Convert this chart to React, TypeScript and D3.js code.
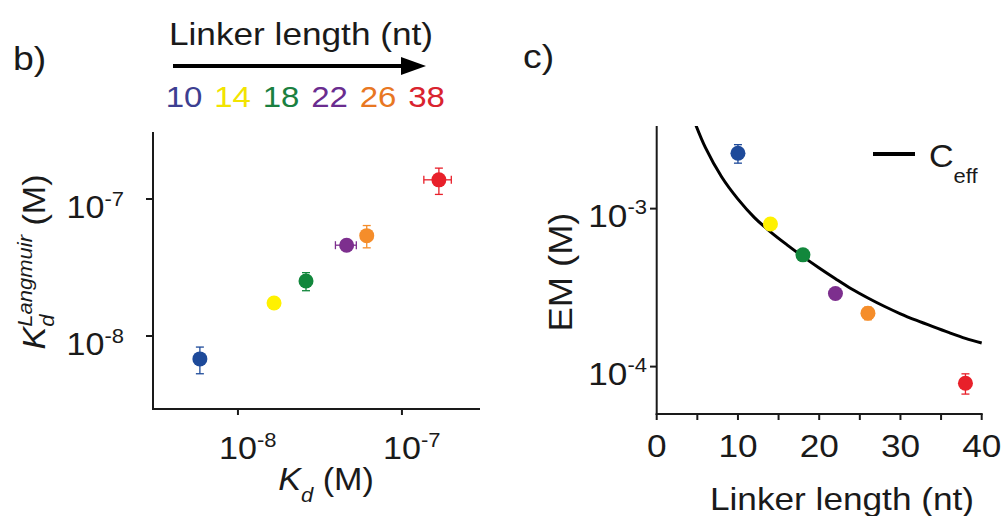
import React from "react";
import * as d3 from "d3";

// ---------- data ----------
const linkers = [10, 14, 18, 22, 26, 38];
const pointColors = ["#1e4a9a", "#fff100", "#12873c", "#7d2f8e", "#f58d2a", "#e8202a"];
const labelColors = ["#3d3f91", "#f2e400", "#1a8040", "#6a2c8f", "#e87722", "#d9232e"];

const kd = [5.86e-9, 1.66e-8, 2.6e-8, 4.6e-8, 6.1e-8, 1.68e-7];
const kdErr = [0.3e-9, 0.1e-8, 0.15e-8, 0.67e-8, 0.4e-8, 0.32e-7];
const kdLangmuir = [6.8e-9, 1.74e-8, 2.52e-8, 4.6e-8, 5.4e-8, 1.38e-7];
const kdLangmuirErr = [1.5e-9, 0.1e-8, 0.38e-8, 0.2e-8, 1.0e-8, 0.3e-7];

const em = [2.24e-3, 8.0e-4, 5.1e-4, 2.9e-4, 2.18e-4, 7.85e-5];
const emErr = [0.3e-3, 0.3e-4, 0.2e-4, 0.15e-4, 0.2e-4, 1.15e-5];

const ceffL = [4.6, 6, 8, 10, 12, 14, 16, 18, 20, 22, 24, 26, 28, 30, 32, 34, 36, 38, 40];
const ceffVal = [3.61e-3, 2.43e-3, 1.585e-3, 1.148e-3, 8.81e-4, 7.13e-4, 5.92e-4, 4.97e-4, 4.21e-4, 3.6e-4,
  3.1e-4, 2.72e-4, 2.41e-4, 2.16e-4, 1.96e-4, 1.79e-4, 1.64e-4, 1.51e-4, 1.41e-4];

const bXTicks = [1e-8, 1e-7];
const bXTickExp = ["-8", "-7"];
const bYTicks = [1e-8, 1e-7];
const bYTickExp = ["-8", "-7"];
const cXTicks = [0, 5, 10, 15, 20, 25, 30, 35, 40];
const cXLabels = [0, 10, 20, 30, 40];
const cYTicks = [1e-3, 1e-4];
const cYTickExp = ["-3", "-4"];

// ---------- layout ----------
const W = 1008, H = 516;
const FONT = "'Liberation Sans', Arial, Helvetica, sans-serif";
const SX = 1.1;
const INK = "#1a1a1a";

const bx = d3.scaleLog().domain([Math.pow(10, -8.518), Math.pow(10, -6.524)]).range([153, 480]);
const by = d3.scaleLog().domain([Math.pow(10, -8.533), Math.pow(10, -6.511)]).range([409, 132]);
const cx = d3.scaleLinear().domain([0, 40]).range([656.7, 981.7]);
const cy = d3.scaleLog().domain([Math.pow(10, -4.3), Math.pow(10, -2.477)]).range([414, 126]);

function T({ x, y, rotate = 0, anchor = "start", size = 31, children, fill = INK }: any) {
  return (
    <g transform={`translate(${x},${y}) rotate(${rotate}) scale(${SX},1)`}>
      <text textAnchor={anchor} fontSize={size} fill={fill} fontFamily={FONT}>
        {children}
      </text>
    </g>
  );
}

function ErrV({ x, y0, y1, color }: any) {
  return (
    <g stroke={color} strokeWidth={1.3}>
      <line x1={x} x2={x} y1={y0} y2={y1} />
      <line x1={x - 4} x2={x + 4} y1={y0} y2={y0} />
      <line x1={x - 4} x2={x + 4} y1={y1} y2={y1} />
    </g>
  );
}
function ErrH({ y, x0, x1, color }: any) {
  return (
    <g stroke={color} strokeWidth={1.3}>
      <line x1={x0} x2={x1} y1={y} y2={y} />
      <line x1={x0} x2={x0} y1={y - 4} y2={y + 4} />
      <line x1={x1} x2={x1} y1={y - 4} y2={y + 4} />
    </g>
  );
}

export default function App() {
  const numScale = d3.scalePoint<number>().domain(linkers).range([184, 426.5]);
  const ceffLine = d3
    .line<number>()
    .x((_, i) => cx(ceffL[i]))
    .y((v) => cy(v))
    .curve(d3.curveCatmullRom.alpha(0.5))(ceffVal) as string;
  const R = 7.5;
  const halfTen = 0.556 * 31;

  return (
    <svg width={W} height={H} style={{ position: "absolute", left: 0, top: 0, display: "block", background: "#fff" }}>
      <defs>
        <clipPath id="cclip">
          <rect x={cx(0)} y={126} width={cx(40) - cx(0) + 4} height={414 - 126} />
        </clipPath>
      </defs>
      <rect width={W} height={H} fill="#fff" />

      {/* ---------- panel b ---------- */}
      <T x={13} y={70} size={34}>b)</T>
      <T x={301} y={45} anchor="middle" size={32}>Linker length (nt)</T>
      <line x1={173} x2={405} y1={66} y2={66} stroke="#000" strokeWidth={4} />
      <polygon points="401,57 426,66 401,75" fill="#000" />
      {linkers.map((l, i) => (
        <T key={l} x={numScale(l)!} y={107} anchor="middle" size={30} fill={labelColors[i]}>
          {l}
        </T>
      ))}

      <line x1={153} x2={153} y1={132} y2={410} stroke={INK} strokeWidth={2} />
      <line x1={152} x2={480} y1={409} y2={409} stroke={INK} strokeWidth={2} />
      {bXTicks.map((t) => (
        <line key={t} x1={bx(t)} x2={bx(t)} y1={409} y2={415} stroke={INK} strokeWidth={2} />
      ))}
      {bYTicks.map((t) => (
        <line key={t} x1={146} x2={153} y1={by(t)} y2={by(t)} stroke={INK} strokeWidth={2} />
      ))}
      {bXTicks.map((t, i) => (
        <g key={t} transform={`translate(${bx(t)},459) scale(${SX},1)`}>
          <text x={-halfTen} fontSize={31} fill={INK} fontFamily={FONT}>
            10<tspan fontSize={20} dy={-12}>{bXTickExp[i]}</tspan>
          </text>
        </g>
      ))}
      {bYTicks.map((t, i) => (
        <T key={t} x={124} y={by(t) + 19} anchor="end" size={31}>
          10<tspan fontSize={20} dy={-12}>{bYTickExp[i]}</tspan>
        </T>
      ))}
      <T x={326} y={490} anchor="middle" size={31}>
        <tspan fontStyle="italic">K</tspan>
        <tspan fontStyle="italic" fontSize={20} dy={12}>d</tspan>
        <tspan dy={-12}> (M)</tspan>
      </T>
      <T x={45} y={262} rotate={-90} anchor="middle" size={31}>
        <tspan fontStyle="italic">K</tspan>
        <tspan fontStyle="italic" fontSize={20} dy={9}>d</tspan>
        <tspan fontStyle="italic" fontSize={20} dx={-11} dy={-22}>Langmuir</tspan>
        <tspan dy={13}> (M)</tspan>
      </T>

      {linkers.map((l, i) => (
        <g key={"be" + l}>
          <ErrV x={bx(kd[i])} y0={by(kdLangmuir[i] + kdLangmuirErr[i])} y1={by(kdLangmuir[i] - kdLangmuirErr[i])} color={pointColors[i]} />
          <ErrH y={by(kdLangmuir[i])} x0={bx(kd[i] - kdErr[i])} x1={bx(kd[i] + kdErr[i])} color={pointColors[i]} />
        </g>
      ))}
      {linkers.map((l, i) => (
        <circle key={"bp" + l} cx={bx(kd[i])} cy={by(kdLangmuir[i])} r={R} fill={pointColors[i]} />
      ))}

      {/* ---------- panel c ---------- */}
      <T x={523} y={68} size={34}>c)</T>
      <line x1={cx(0)} x2={cx(0)} y1={126} y2={415} stroke={INK} strokeWidth={2} />
      <line x1={cx(0) - 1} x2={cx(40) + 1} y1={414} y2={414} stroke={INK} strokeWidth={2} />
      {cXTicks.map((t) => (
        <line key={t} x1={cx(t)} x2={cx(t)} y1={414} y2={420} stroke={INK} strokeWidth={2} />
      ))}
      {cYTicks.map((t) => (
        <line key={t} x1={650} x2={cx(0)} y1={cy(t)} y2={cy(t)} stroke={INK} strokeWidth={2} />
      ))}
      {cXLabels.map((t) => (
        <T key={t} x={cx(t)} y={457} anchor="middle" size={32}>{t}</T>
      ))}
      {cYTicks.map((t, i) => (
        <T key={t} x={647} y={cy(t) + 18} anchor="end" size={32}>
          10<tspan fontSize={20} dy={-13}>{cYTickExp[i]}</tspan>
        </T>
      ))}
      <T x={842} y={510} anchor="middle" size={32}>Linker length (nt)</T>
      <T x={572} y={272} rotate={-90} anchor="middle" size={33}>EM (M)</T>

      <path d={ceffLine} fill="none" stroke="#000" strokeWidth={3} clipPath="url(#cclip)" />

      {linkers.map((l, i) => (
        <ErrV key={"ce" + l} x={cx(l)} y0={cy(em[i] + emErr[i])} y1={cy(em[i] - emErr[i])} color={pointColors[i]} />
      ))}
      {linkers.map((l, i) => (
        <circle key={"cp" + l} cx={cx(l)} cy={cy(em[i])} r={R} fill={pointColors[i]} />
      ))}

      <line x1={873} x2={915} y1={154} y2={154} stroke="#000" strokeWidth={4} />
      <T x={929} y={167} size={31}>
        C<tspan fontSize={20} dy={16}>eff</tspan>
      </T>
    </svg>
  );
}
